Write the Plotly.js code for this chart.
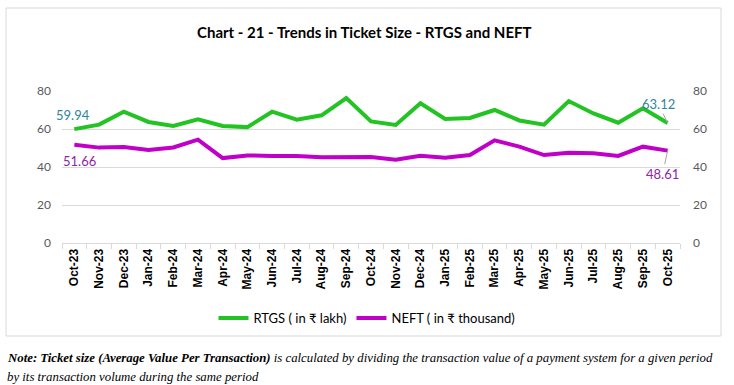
<!DOCTYPE html>
<html>
<head>
<meta charset="utf-8">
<script src="https://cdn.plot.ly/plotly-3.0.1.min.js"></script>
<style>
html,body{margin:0;padding:0;background:#fff;}
#chart{width:734px;height:385px;}
</style>
</head>
<body>
<div id="chart"></div>
<script>
const months = ["Oct-23","Nov-23","Dec-23","Jan-24","Feb-24","Mar-24","Apr-24","May-24","Jun-24","Jul-24","Aug-24","Sep-24","Oct-24","Nov-24","Dec-24","Jan-25","Feb-25","Mar-25","Apr-25","May-25","Jun-25","Jul-25","Aug-25","Sep-25","Oct-25"];
const rtgs = [59.94,62.3,69.1,63.7,61.6,65.1,61.6,61.0,69.1,64.9,67.2,76.3,64.0,62.1,73.5,65.3,65.8,70.0,64.5,62.3,74.7,68.2,63.3,70.9,63.12];
const neft = [51.66,50.2,50.5,48.9,50.3,54.4,44.7,46.1,45.8,45.8,45.1,45.4,45.2,43.8,45.9,44.9,46.3,54.0,50.7,46.3,47.5,47.2,45.8,50.7,48.61];
const seriesNames = ["RTGS ( in \u20B9 lakh)", "NEFT ( in \u20B9 thousand)"];
const titleText = "Chart - 21 - Trends in Ticket Size - RTGS and NEFT";
const noteBold = "Note: Ticket size (Average Value Per Transaction)";
const noteRest1 = " is calculated by dividing the transaction value of a payment system for a given period";
const noteRest2 = "by its transaction volume during the same period";
const yTicks = [0,20,40,60,80];

// plot area in pixels
const L = 62, R = 680, T = 91, B = 243;
const W = 734, H = 385;
const px = x => (x - L) / (R - L);
const py = y => (B - y) / (B - T);

const green = "#22C322";
const purple = "#C000C8";
const teal = "#31849B";
const labPurple = "#8E24AA";
const font = "Lato, 'Open Sans', 'Noto Sans', sans-serif";
const serif = "'Liberation Serif', 'DejaVu Serif', serif";

const last = months.length - 1;

const traces = [
  {x: months, y: rtgs, name: seriesNames[0], type: "scatter", mode: "lines",
   line: {color: green, width: 4}, yaxis: "y"},
  {x: months, y: neft, name: seriesNames[1], type: "scatter", mode: "lines",
   line: {color: purple, width: 4}, yaxis: "y2"}
];

const fmt = v => v.toFixed(2);

const annotations = [
  {xref: "paper", yref: "paper", x: px(364.5), y: py(32), xanchor: "center", yanchor: "middle",
   text: "<b>" + titleText + "</b>", showarrow: false, font: {family: font, size: 15, color: "#000"}},
  {xref: "x", yref: "y", x: months[0], y: rtgs[0], text: fmt(rtgs[0]), showarrow: false,
   xshift: -1, yshift: 14, font: {family: font, size: 13, color: teal}},
  {xref: "x", yref: "y2", x: months[0], y: neft[0], text: fmt(neft[0]), showarrow: false,
   xshift: 5, yshift: -16, font: {family: font, size: 13, color: labPurple}},
  {xref: "x", yref: "y", x: months[last], y: rtgs[last], text: fmt(rtgs[last]), showarrow: true,
   ax: -9, ay: -19, arrowhead: 0, arrowwidth: 1, arrowcolor: "#A6A6A6", standoff: 0,
   font: {family: font, size: 13, color: teal}},
  {xref: "x", yref: "y2", x: months[last], y: neft[last], text: fmt(neft[last]), showarrow: true,
   ax: -5, ay: 23, arrowhead: 0, arrowwidth: 1, arrowcolor: "#A6A6A6", standoff: 0,
   font: {family: font, size: 13, color: labPurple}},
  {xref: "paper", yref: "paper", x: px(5), y: py(358), xanchor: "left", yanchor: "middle",
   text: "<b><i>" + noteBold + "</i></b><i>" + noteRest1 + "</i>", showarrow: false,
   font: {family: serif, size: 12.8, color: "#000"}},
  {xref: "paper", yref: "paper", x: px(5), y: py(377), xanchor: "left", yanchor: "middle",
   text: "<i>" + noteRest2 + "</i>", showarrow: false,
   font: {family: serif, size: 12.8, color: "#000"}}
];

const yax = {
  range: [0, 80], tickvals: yTicks, ticktext: yTicks.map(String),
  showgrid: true, gridcolor: "#D9D9D9", gridwidth: 1, zeroline: false, showline: false,
  ticks: "", tickfont: {family: font, size: 12, color: "#595959"}, ticklabelstandoff: 10,
  fixedrange: true
};

const layout = {
  width: W, height: H,
  margin: {l: L, r: W - R, t: T, b: H - B, pad: 0},
  paper_bgcolor: "#fff", plot_bgcolor: "#fff",
  showlegend: true,
  legend: {orientation: "h", x: px(367), y: py(318), xanchor: "center", yanchor: "middle",
    font: {family: font, size: 13, color: "#000"}, itemwidth: 30, tracegroupgap: 0,
    bgcolor: "rgba(0,0,0,0)"},
  xaxis: {
    type: "category", range: [-0.5, months.length - 0.5], tickangle: -90,
    tickson: "boundaries", ticks: "outside", ticklen: 5, tickcolor: "#D9D9D9",
    showline: true, linecolor: "#D9D9D9", linewidth: 1, showgrid: false,
    tickfont: {family: "'Liberation Sans', Arial, sans-serif", size: 12, color: "#000", weight: "bold"},
    fixedrange: true
  },
  yaxis: Object.assign({}, yax, {side: "left"}),
  yaxis2: Object.assign({}, yax, {side: "right", overlaying: "y", showgrid: false, ticklabelstandoff: 12}),
  annotations: annotations,
  shapes: [
    {type: "rect", xref: "paper", yref: "paper", x0: px(6), x1: px(721), y0: py(336), y1: py(8),
     line: {color: "#D9D9D9", width: 1}, fillcolor: "rgba(0,0,0,0)", layer: "below"}
  ]
};

Plotly.newPlot("chart", traces, layout, {displayModeBar: false, staticPlot: true});
</script>
</body>
</html>
